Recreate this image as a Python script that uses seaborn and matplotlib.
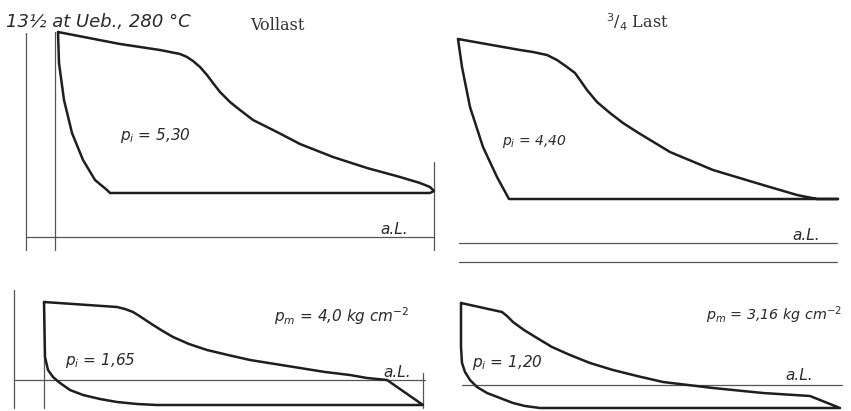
import matplotlib
matplotlib.use("Agg")
import matplotlib.pyplot as plt
import seaborn as sns
import pandas as pd

sns.set_theme(style="white")
plt.rcParams["mathtext.fontset"] = "dejavusans"

# Indicator diagrams, traced in sheet units (x to the right, y downward)
# Full load, high-pressure side
vollast_x = [58, 120, 160, 170, 180, 187, 193, 200, 207, 213, 220, 230, 240, 253, 267, 277, 300, 333,
             367, 400, 420, 430, 434,
             430, 300, 200, 110, 107, 95, 83, 72, 64, 59, 58]
vollast_y = [32, 44, 50, 52, 54, 57, 61, 67, 75, 83, 92, 102, 110, 120, 127, 132, 144, 157,
             168, 177, 183, 187, 191,
             193, 193, 193, 193, 190, 180, 160, 133, 100, 63, 32]

# 3/4 load, high-pressure side
dreiviertel_x = [458, 520, 533, 547, 557, 567, 575, 580, 587, 597, 610, 623, 637, 670, 713, 763,
                 797, 817, 838,
                 700, 600, 509, 497, 483, 470, 462, 458]
dreiviertel_y = [39, 50, 52, 55, 60, 67, 73, 80, 90, 102, 113, 123, 132, 152, 170, 185,
                 195, 199, 199,
                 199, 199, 199, 177, 147, 107, 67, 39]

# Full load, low-pressure side
nd_voll_x = [44, 117, 125, 133, 141, 150, 161, 173, 189, 207, 228, 250, 275, 300, 325, 350, 367, 387, 423,
             300, 157, 137, 117, 100, 83, 70, 60, 53, 48, 45, 44]
nd_voll_y = [302, 307, 309, 312, 317, 323, 330, 337, 344, 350, 355, 360, 364, 368, 372, 375, 378, 380, 405,
             405, 405, 404, 402, 399, 395, 390, 383, 377, 370, 357, 302]

# 3/4 load, low-pressure side
nd_dv_x = [461, 502, 507, 513, 524, 537, 552, 570, 590, 613, 637, 663, 688, 713, 763, 810, 840,
           700, 540, 525, 513, 500, 487, 477, 470, 465, 462, 461, 461]
nd_dv_y = [303, 312, 316, 322, 330, 338, 347, 355, 363, 370, 376, 382, 385, 388, 393, 396, 408,
           408, 408, 406, 403, 398, 393, 387, 380, 372, 363, 347, 303]

# Reference lines (atmospheric line "a.L." and ordinate lines)
ref_lines = [
    ([26, 26], [33, 250]), ([55, 55], [32, 250]), ([434, 434], [162, 250]),
    ([26, 434], [237, 237]),
    ([459, 837], [243, 243]), ([459, 837], [262, 262]),
    ([14, 14], [290, 408]), ([44, 44], [302, 408]), ([423, 423], [373, 408]),
    ([14, 425], [380, 380]),
    ([462, 842], [385, 385]),
]

diagrams = [(vollast_x, vollast_y), (dreiviertel_x, dreiviertel_y),
            (nd_voll_x, nd_voll_y), (nd_dv_x, nd_dv_y)]

fig = plt.figure(figsize=(8.51, 4.11), dpi=100)
ax = fig.add_axes([0, 0, 1, 1])

for xs, ys in ref_lines:
    df = pd.DataFrame({"x": xs, "y": ys})
    sns.lineplot(data=df, x="x", y="y", sort=False, estimator=None,
                 color="#555555", linewidth=0.9, ax=ax)

for xs, ys in diagrams:
    df = pd.DataFrame({"x": xs, "y": ys})
    line = sns.lineplot(data=df, x="x", y="y", sort=False, estimator=None,
                        color="#1e1e1e", linewidth=1.8, ax=ax)
for ln in ax.lines:
    ln.set_solid_joinstyle("round")
    ln.set_solid_capstyle("round")

ax.set_xlim(0, 851)
ax.set_ylim(411, 0)
ax.axis("off")

hand = dict(style="italic", color="#2a2a2a", family="DejaVu Sans")
serif = dict(color="#333333", family="DejaVu Serif")

ax.text(6, 27, "13½ at Ueb., 280 °C", fontsize=13, **hand)
ax.text(277, 30, "Vollast", fontsize=11.5, ha="center", **serif)
ax.text(637, 28, "$^3/_4$ Last", fontsize=11.5, ha="center", **serif)

ax.text(120, 140, "$p_i$ = 5,30", fontsize=11, **hand)
ax.text(502, 145, "$p_i$ = 4,40", fontsize=10, **hand)
ax.text(65, 365, "$p_i$ = 1,65", fontsize=11, **hand)
ax.text(472, 367, "$p_i$ = 1,20", fontsize=11, **hand)
ax.text(274, 322, "$p_m$ = 4,0 kg cm$^{-2}$", fontsize=11, **hand)
ax.text(706, 320, "$p_m$ = 3,16 kg cm$^{-2}$", fontsize=10.3, **hand)

ax.text(380, 234, "a.L.", fontsize=11, **hand)
ax.text(792, 240, "a.L.", fontsize=11, **hand)
ax.text(383, 377, "a.L.", fontsize=11, **hand)
ax.text(785, 380, "a.L.", fontsize=11, **hand)

fig.savefig("out.png", dpi=100, facecolor="white")
